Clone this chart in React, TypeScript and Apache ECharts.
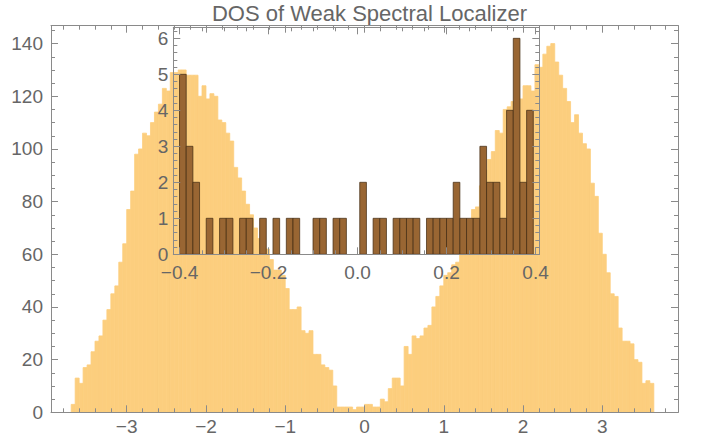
import React, { useEffect, useRef } from "react";
import * as echarts from "echarts";

const chartTitle = "DOS of Weak Spectral Localizer";

// Main histogram: bins of width 0.05 starting at -3.70
const mainBinStart = -3.7;
const mainBinWidth = 0.05;
const mainCounts = [
  3, 13, 11, 17, 18, 23, 27, 29, 35, 39,
  45, 48, 57, 64, 77, 84, 98, 100, 106, 105,
  110, 114, 117, 123, 122, 129, 129, 130, 130, 128,
  128, 128, 120, 124, 119, 121, 120, 111, 110, 106,
  103, 93, 89, 84, 79, 75, 70, 66, 64, 62,
  58, 54, 54, 52, 47, 39, 39, 40, 31, 30,
  31, 22, 22, 18, 17, 16, 10, 2, 2, 2,
  2, 1, 2, 2, 3, 3, 2, 2, 5, 4,
  9, 13, 13, 10, 25, 22, 29, 28, 29, 32,
  33, 40, 44, 48, 52, 53, 56, 57, 60, 64,
  68, 77, 78, 86, 92, 96, 99, 107, 106, 115,
  116, 118, 120, 119, 124, 124, 122, 132, 131, 136,
  139, 140, 133, 128, 123, 118, 110, 113, 106, 102,
  100, 87, 82, 68, 60, 53, 45, 44, 32, 27,
  27, 26, 20, 19, 11, 12, 11,
];

// Inset histogram: bins of width 0.015 starting at -0.40
const insetBinStart = -0.4;
const insetBinWidth = 0.015;
const insetCounts = [
  5, 3, 2, 0, 1, 0, 1, 1, 0, 1,
  1, 0, 1, 0, 1, 0, 1, 1, 0, 0,
  1, 1, 0, 1, 1, 0, 0, 2, 0, 1,
  1, 0, 1, 1, 1, 1, 0, 1, 1, 1,
  1, 2, 1, 1, 1, 3, 2, 2, 1, 4,
  6, 2, 4,
];

// Axis ranges
const mainXRange = [-3.955, 3.955];
const mainYRange = [0, 146.8];
const insetXRange = [-0.414, 0.4085];
const insetYRange = [0, 6.306];

const FONT = "'Liberation Sans', Arial, sans-serif";
const TEXT = "#666666";
const FRAME = "#8a8a8a";
const TICK_FONT = 19;

const minus = (s: string) => s.replace("-", "\u2212");

function binsToData(start: number, width: number, counts: number[]) {
  return counts
    .map((c, i) => [start + i * width, start + (i + 1) * width, c])
    .filter((d) => d[2] > 0);
}

function makeRender(fill: string, stroke: string, lw: number) {
  return (params: any, api: any) => {
    const x0 = api.value(0);
    const x1 = api.value(1);
    const h = api.value(2);
    const p0 = api.coord([x0, h]);
    const p1 = api.coord([x1, 0]);
    return {
      type: "rect",
      shape: { x: p0[0], y: p0[1], width: p1[0] - p0[0], height: p1[1] - p0[1] },
      style: { fill, stroke, lineWidth: lw },
    };
  };
}

function frameAxis(
  gridIndex: number,
  position: string,
  range: number[],
  showLabels: boolean,
  extra: any,
  fmt: (v: number) => string
) {
  return {
    type: "value",
    gridIndex,
    position,
    min: range[0],
    max: range[1],
    z: 10,
    axisLine: { show: true, onZero: false, lineStyle: { color: FRAME, width: 1 } },
    axisTick: { show: true, inside: true, length: 7, lineStyle: { color: FRAME, width: 1 } },
    minorTick: { show: true, length: 4, lineStyle: { color: FRAME, width: 1 }, splitNumber: extra.minorSplit },
    splitLine: { show: false },
    minorSplitLine: { show: false },
    axisLabel: {
      show: showLabels,
      color: TEXT,
      fontFamily: FONT,
      fontSize: TICK_FONT,
      margin: extra.margin,
      showMinLabel: extra.showMin,
      showMaxLabel: false,
      formatter: fmt,
    },
    ...(extra.interval !== undefined ? { interval: extra.interval } : { splitNumber: extra.splitNumber }),
  };
}

export default function App() {
  const ref = useRef<HTMLDivElement>(null);

  useEffect(() => {
    if (!ref.current) return;
    const chart = echarts.init(ref.current, undefined, { renderer: "svg" });

    const mainFmt = (v: number) => minus(String(Math.round(v)));
    const insetXFmt = (v: number) => minus(v.toFixed(1));
    const intFmt = (v: number) => String(Math.round(v));

    const option: any = {
      animation: false,
      backgroundColor: "#ffffff",
      title: {
        text: chartTitle,
        left: 364.5,
        top: -3,
        textAlign: "center",
        textStyle: { color: TEXT, fontFamily: FONT, fontSize: 22, fontWeight: "normal" },
      },
      grid: [
        { left: 51, right: 24, top: 25.7, bottom: 30.7, containLabel: false },
        { left: 173.3, right: 162.7, top: 27.3, bottom: 188.7, containLabel: false },
      ],
      xAxis: [
        frameAxis(0, "bottom", mainXRange, true, { minorSplit: 5, margin: 5, showMin: false, splitNumber: 8 }, mainFmt),
        frameAxis(0, "top", mainXRange, false, { minorSplit: 5, margin: 5, showMin: false, splitNumber: 8 }, mainFmt),
        frameAxis(1, "bottom", insetXRange, true, { minorSplit: 4, margin: 9, showMin: false, splitNumber: 4 }, insetXFmt),
        frameAxis(1, "top", insetXRange, false, { minorSplit: 4, margin: 9, showMin: false, splitNumber: 4 }, insetXFmt),
      ],
      yAxis: [
        frameAxis(0, "left", mainYRange, true, { minorSplit: 4, margin: 8, showMin: true, interval: 20 }, intFmt),
        frameAxis(0, "right", mainYRange, false, { minorSplit: 4, margin: 8, showMin: true, interval: 20 }, intFmt),
        frameAxis(1, "left", insetYRange, true, { minorSplit: 5, margin: 5, showMin: true, interval: 1 }, intFmt),
        frameAxis(1, "right", insetYRange, false, { minorSplit: 5, margin: 5, showMin: true, interval: 1 }, intFmt),
      ],
      series: [
        {
          type: "custom",
          name: "main",
          xAxisIndex: 0,
          yAxisIndex: 0,
          z: 2,
          encode: { x: [0, 1], y: 2 },
          renderItem: makeRender("#fcce7e", "#fcce7e", 0.8),
          data: binsToData(mainBinStart, mainBinWidth, mainCounts),
        },
        {
          type: "custom",
          name: "inset",
          xAxisIndex: 2,
          yAxisIndex: 2,
          z: 3,
          encode: { x: [0, 1], y: 2 },
          renderItem: makeRender("#996633", "rgba(70,45,20,0.75)", 1),
          data: binsToData(insetBinStart, insetBinWidth, insetCounts),
        },
      ],
    };

    chart.setOption(option);
    return () => chart.dispose();
  }, []);

  return (
    <div
      ref={ref}
      style={{ position: "absolute", left: 0, top: 0, width: 702, height: 443, background: "#fff" }}
    />
  );
}
